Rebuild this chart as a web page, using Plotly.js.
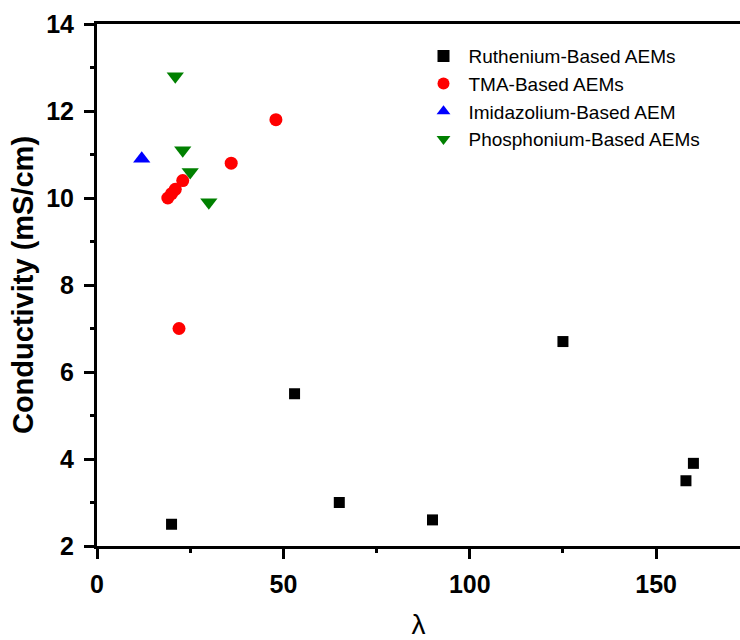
<!DOCTYPE html>
<html>
<head>
<meta charset="utf-8">
<script src="https://cdn.plot.ly/plotly-3.0.1.min.js"></script>
<style>
  html, body { margin: 0; padding: 0; background: #fff; }
  #chart { width: 740px; height: 640px; }
</style>
</head>
<body>
<div id="chart"></div>
<script>
// Water uptake (lambda) vs. hydroxide conductivity for several AEM families
const seriesNames = [
  "Ruthenium-Based AEMs",
  "TMA-Based AEMs",
  "Imidazolium-Based AEM",
  "Phosphonium-Based AEMs"
];

const rutheniumLambda = [20, 53, 65, 90, 125, 158, 160];
const rutheniumCond   = [2.5, 5.5, 3.0, 2.6, 6.7, 3.5, 3.9];

const tmaLambda = [19, 20, 21, 22, 23, 36, 48];
const tmaCond   = [10.0, 10.1, 10.2, 7.0, 10.4, 10.8, 11.8];

const imidazoliumLambda = [12];
const imidazoliumCond   = [10.9];

const phosphoniumLambda = [21, 23, 25, 30];
const phosphoniumCond   = [12.8, 11.1, 10.6, 9.9];

const xTickVals = [0, 50, 100, 150];
const yTickVals = [2, 4, 6, 8, 10, 12, 14];

const FONT = "Liberation Sans, Arial, sans-serif";

function series(name, x, y, symbol, color, size) {
  return {
    type: "scatter",
    mode: "markers",
    name: name,
    x: x,
    y: y,
    marker: { symbol: symbol, color: color, size: size, line: { width: 0 } },
    cliponaxis: false
  };
}

const traces = [
  series(seriesNames[0], rutheniumLambda, rutheniumCond, "square", "#000000", 11),
  series(seriesNames[1], tmaLambda, tmaCond, "circle", "#ff0000", 13),
  series(seriesNames[2], imidazoliumLambda, imidazoliumCond, "triangle-up", "#0000ff", 15),
  series(seriesNames[3], phosphoniumLambda, phosphoniumCond, "triangle-down", "#008000", 15)
];

const tickFont = { family: FONT, size: 25, color: "#000", weight: "bold" };

const layout = {
  width: 740,
  height: 640,
  margin: { l: 97, r: 0, t: 24, b: 94 },
  paper_bgcolor: "#fff",
  plot_bgcolor: "#fff",
  showlegend: true,
  legend: {
    x: 0.5, y: 0.975, xanchor: "left", yanchor: "top",
    bgcolor: "rgba(0,0,0,0)",
    font: { family: FONT, size: 19, color: "#000" },
    itemsizing: "constant",
    itemwidth: 40,
    tracegroupgap: 0
  },
  xaxis: {
    range: [0, 172.5],
    tickvals: xTickVals,
    ticktext: xTickVals.map(String),
    ticks: "outside",
    ticklen: 10,
    tickwidth: 3,
    tickcolor: "#000",
    ticklabelstandoff: 4,
    minor: { dtick: 25, tick0: 0, ticks: "outside", ticklen: 4, tickwidth: 3, tickcolor: "#000" },
    showline: true,
    linecolor: "#000",
    linewidth: 3,
    mirror: true,
    showgrid: false,
    zeroline: false,
    tickfont: tickFont,
    title: { text: "λ", font: { family: FONT, size: 28, color: "#000" }, standoff: 32 }
  },
  yaxis: {
    range: [2, 14],
    tickvals: yTickVals,
    ticktext: yTickVals.map(String),
    ticks: "outside",
    ticklen: 10,
    tickwidth: 3,
    tickcolor: "#000",
    ticklabelstandoff: 5,
    minor: { dtick: 1, tick0: 0, ticks: "outside", ticklen: 4, tickwidth: 3, tickcolor: "#000" },
    showline: true,
    linecolor: "#000",
    linewidth: 3,
    mirror: false,
    showgrid: false,
    zeroline: false,
    tickfont: tickFont,
    title: { text: "Conductivity (mS/cm)", font: { family: FONT, size: 29, color: "#000", weight: "bold" }, standoff: 5 }
  }
};

Plotly.newPlot("chart", traces, layout, { displayModeBar: false, staticPlot: true });
</script>
</body>
</html>
